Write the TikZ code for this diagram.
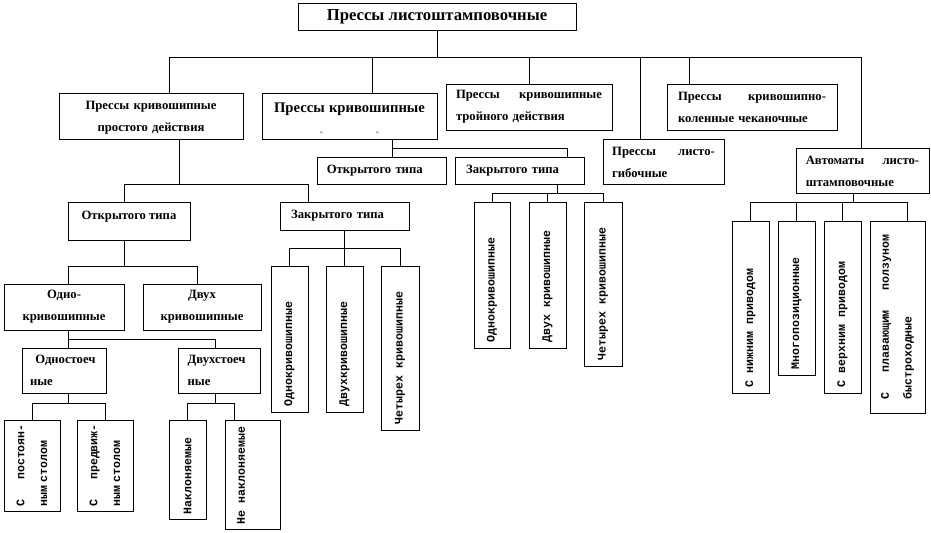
\documentclass[tikz,border=0pt]{standalone}
\usepackage{fontspec}
\setmainfont{Liberation Serif}
\newfontfamily\monofont{Liberation Mono}
\usetikzlibrary{fit,positioning}
\newcommand{\boxfont}{\bfseries\fontsize{9.5}{16.5}\selectfont}
\newcommand{\vfont}{\monofont\bfseries\fontsize{8.7}{17}\selectfont}

\begin{document}
\begin{tikzpicture}[x=0.75pt,y=-0.75pt,line width=0.7pt,
  box/.style={draw,inner sep=0pt},
  txt/.style={inner sep=0pt,font=\boxfont},
  vtext/.style={rotate=90,anchor=west,inner sep=0pt,font=\vfont},
  vtwo/.style={rotate=90,inner sep=0pt,font=\vfont,align=left}]
\useasboundingbox (0,0) rectangle (931,532);
\node[box,fit={(298,3) (576,30)}] (b0) {};
\node[box,fit={(59,93) (243,139)}] (b1) {};
\node[box,fit={(262,93) (437,139)}] (b2) {};
\node[box,fit={(446,84) (612,130)}] (b3) {};
\node[box,fit={(603,139) (724,184)}] (b4) {};
\node[box,fit={(667,84) (837,130)}] (b5) {};
\node[box,fit={(796,148) (929,193)}] (b6) {};
\node[box,fit={(317,157) (446,184)}] (b7) {};
\node[box,fit={(455,157) (584,184)}] (b8) {};
\node[box,fit={(474,202) (510,348)}] (b9) {};
\node[box,fit={(529,202) (566,348)}] (b10) {};
\node[box,fit={(584,202) (622,366)}] (b11) {};
\node[box,fit={(732,221) (769,393)}] (b12) {};
\node[box,fit={(778,221) (815,375)}] (b13) {};
\node[box,fit={(824,221) (861,393)}] (b14) {};
\node[box,fit={(870,221) (925,413)}] (b15) {};
\node[box,fit={(68,202) (190,240)}] (b16) {};
\node[box,fit={(280,202) (409,230)}] (b17) {};
\node[box,fit={(271,266) (308,412)}] (b18) {};
\node[box,fit={(326,266) (363,412)}] (b19) {};
\node[box,fit={(381,266) (419,430)}] (b20) {};
\node[box,fit={(4,284) (124,330)}] (b21) {};
\node[box,fit={(143,284) (261,330)}] (b22) {};
\node[box,fit={(22,348) (106,393)}] (b23) {};
\node[box,fit={(178,348) (260,393)}] (b24) {};
\node[box,fit={(4,420) (60,511)}] (b25) {};
\node[box,fit={(77,420) (133,511)}] (b26) {};
\node[box,fit={(169,420) (206,519)}] (b27) {};
\node[box,fit={(225,420) (280,529)}] (b28) {};
\node[txt,font=\bfseries\fontsize{12.5}{15}\selectfont] (l0) at (b0) {Прессы листоштамповочные};
\node[txt,text width=130pt,align=center] (l1) at ([yshift=-1.5pt]b1.center) {Прессы кривошипные\\простого действия};
\node[txt,text width=125pt,align=center] (l2) at ([yshift=-2pt]b2.center) {{\fontsize{11}{16.5}\selectfont Прессы кривошипные}\\{\fontsize{6}{6}\selectfont -\hspace{40pt}-}};
\node[txt,text width=109.5pt,align=left] (l3) at (b3) {Прессы\hfill кривошипные\\тройного действия};
\node[txt,text width=77pt,align=left] (l4) at ([yshift=-1pt]b4.center) {Прессы\hfill листо-\\гибочные};
\node[txt,text width=111pt,align=left] (l5) at (b5) {Прессы\hfill кривошипно-\\коленные чеканочные};
\node[txt,text width=85pt,align=left] (l6) at ([yshift=-1pt]b6.center) {Автоматы\hfill листо-\\штамповочные};
\node[txt,text width=82pt,align=left] (l7) at (b7) {Открытого типа};
\node[txt,text width=80pt,align=left] (l8) at (b8) {Закрытого типа};
\node[txt] (l16) at ([yshift=3pt]b16.center) {Открытого типа};
\node[txt,text width=80pt,align=left] (l17) at (b17) {Закрытого типа};
\node[txt,text width=85pt,align=center] (l21) at (b21) {Одно-\\кривошипные};
\node[txt,text width=85pt,align=center] (l22) at (b22) {Двух\\кривошипные};
\node[txt,text width=51pt,align=left] (l23) at (b23) {\hspace{4pt}Одностоеч\\ные};
\node[txt,text width=47pt,align=left] (l24) at (b24) {Двухстоеч\\ные};
\node[vtext] (t9) at ([yshift=4.5pt]b9.south) {Однокривошипные};
\node[vtext] (t10) at ([yshift=4.5pt]b10.south) {Двух кривошипные};
\node[vtext] (t11) at ([yshift=4.5pt]b11.south) {Четырех кривошипные};
\node[vtext] (t12) at ([yshift=4.5pt]b12.south) {С нижним приводом};
\node[vtext] (t13) at ([yshift=4.5pt]b13.south) {Многопозиционные};
\node[vtext] (t14) at ([yshift=4.5pt]b14.south) {С верхним приводом};
\node[vtwo,text width=124pt] (t15) at (b15) {С\hfill плавающим\hfill ползуном\\быстроходные};
\node[vtext] (t18) at ([yshift=4.5pt]b18.south) {Однокривошипные};
\node[vtext] (t19) at ([yshift=4.5pt]b19.south) {Двухкривошипные};
\node[vtext] (t20) at ([yshift=4.5pt]b20.south) {Четырех кривошипные};
\node[vtwo,text width=62pt] (t25) at (b25) {С\hfill постоян-\\ным столом};
\node[vtwo,text width=62pt] (t26) at (b26) {С\hfill предвиж-\\ным столом};
\node[vtext] (t27) at ([yshift=3.5pt]b27.south) {Наклоняемые};
\node[vtext] (t28) at ([xshift=-8.6pt,yshift=3.5pt]b28.south) {Не наклоняемые};
\coordinate (j0) at (437,57);
\coordinate (j1) at (169,57);
\coordinate (j2) at (372,57);
\coordinate (j3) at (529,57);
\coordinate (j4) at (640,57);
\coordinate (j5) at (689,57);
\coordinate (j6) at (861,57);
\draw (b0) -- (j0);
\draw (b1.north -| j1) |- (j6) -- (b6.north -| j6);
\draw (j2) -- (b2.north -| j2);
\draw (j3) -- (b3.north -| j3);
\draw (j4) -- (b4.north -| j4);
\draw (j5) -- (b5.north -| j5);
\coordinate (j7) at (392,148);
\coordinate (j8) at (567,148);
\draw (b2.south -| j7) -- (b7.north -| j7);
\draw (j7) -| (b8.north -| j8);
\coordinate (j9) at (557,193);
\draw (b8.south -| j9) -- (j9);
\draw (b9.north) |- (b11.north |- j9) -- (b11.north);
\draw (b10.north) -- (b10.north |- j9);
\coordinate (j10) at (853,202);
\coordinate (j11) at (907,202);
\draw (b6.south -| j10) -- (j10);
\draw (b12.north) |- (j11) -- (b15.north -| j11);
\draw (b13.north) -- (b13.north |- j10);
\draw (b14.north) -- (b14.north |- j10);
\coordinate (j12) at (179,184);
\coordinate (j13) at (124,184);
\coordinate (j14) at (308,184);
\draw (b1.south -| j12) -- (j12);
\draw (b16.north -| j13) |- (j14) -- (b17.north -| j14);
\coordinate (j15) at (344,248);
\draw (b17.south -| j15) -- (j15);
\draw (b18.north) |- (b20.north |- j15) -- (b20.north);
\draw (b19.north) -- (b19.north |- j15);
\coordinate (j16) at (124,266);
\coordinate (j17) at (68,266);
\coordinate (j18) at (197,266);
\draw (b16.south -| j16) -- (j16);
\draw (b21.north -| j17) |- (j18) -- (b22.north -| j18);
\coordinate (j19) at (68,339);
\coordinate (j20) at (215,339);
\draw (b21.south -| j19) -- (b23.north -| j19);
\draw (j19) -| (b24.north -| j20);
\coordinate (j21) at (68,403);
\draw (b23.south -| j21) -- (j21);
\draw (b25.north) |- (b26.north |- j21) -- (b26.north);
\coordinate (j22) at (215,403);
\coordinate (j23) at (234,403);
\draw (b24.south -| j22) -- (j22);
\draw (b27.north) |- (j23) -- (b28.north -| j23);
\end{tikzpicture}
\end{document}
